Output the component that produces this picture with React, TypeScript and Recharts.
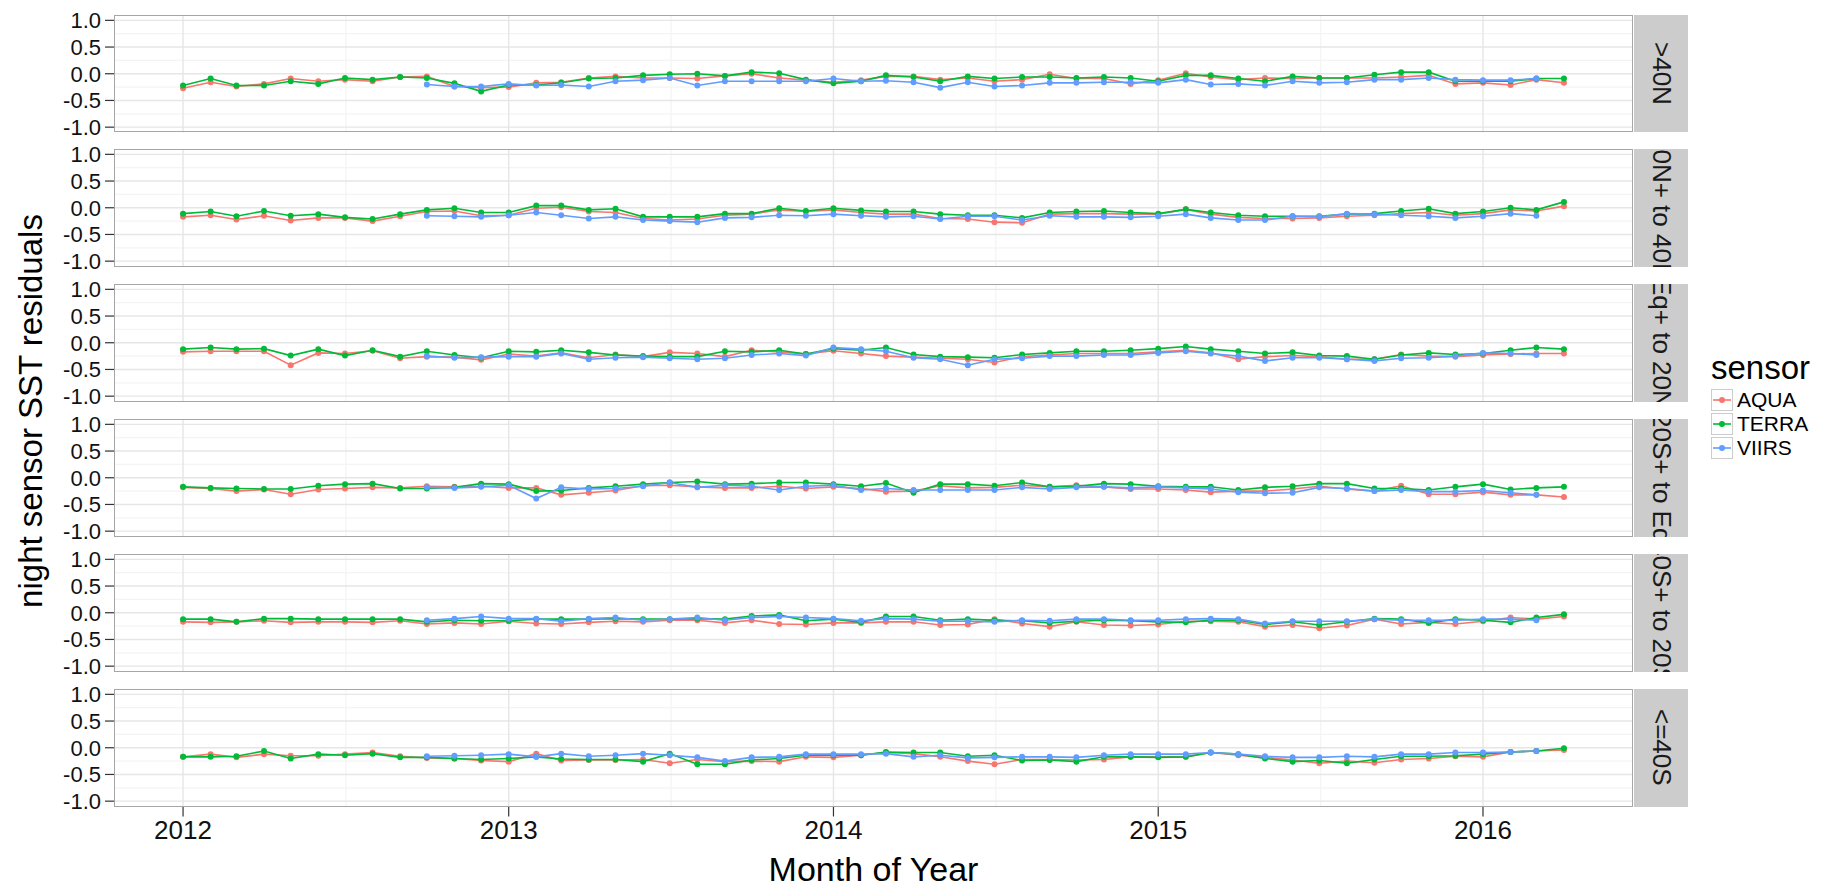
import React from "react";
import { LineChart, Line, XAxis, YAxis, CartesianGrid } from "recharts";

// Monthly night-time SST residuals per sensor, faceted by latitude band.
const MONTHS = [
  "2012-01", "2012-02", "2012-03", "2012-04", "2012-05", "2012-06", "2012-07", "2012-08", "2012-09", "2012-10", "2012-11", "2012-12",
  "2013-01", "2013-02", "2013-03", "2013-04", "2013-05", "2013-06", "2013-07", "2013-08", "2013-09", "2013-10", "2013-11", "2013-12",
  "2014-01", "2014-02", "2014-03", "2014-04", "2014-05", "2014-06", "2014-07", "2014-08", "2014-09", "2014-10", "2014-11", "2014-12",
  "2015-01", "2015-02", "2015-03", "2015-04", "2015-05", "2015-06", "2015-07", "2015-08", "2015-09", "2015-10", "2015-11", "2015-12",
  "2016-01", "2016-02", "2016-03", "2016-04",
];
const VIIRS_FIRST_MONTH = "2012-10";
const YEAR_BREAKS = ["2012-01", "2013-01", "2014-01", "2015-01", "2016-01"];
const YEAR_LABELS = ["2012", "2013", "2014", "2015", "2016"];
const Y_TICKS = [-1, -0.5, 0, 0.5, 1];
const Y_MINOR = [-0.75, -0.25, 0.25, 0.75];

const SENSORS = ["AQUA", "TERRA", "VIIRS"];
const SENSOR_COLORS: Record<string, string> = {
  AQUA: "#F8766D",
  TERRA: "#00BA38",
  VIIRS: "#619CFF",
};

const ZONES = [">40N", "20N+ to 40N", "Eq+ to 20N", "20S+ to Eq", "40S+ to 20S", "<=40S"];

// >40N
const aquaN40 = [
  -0.27, -0.16, -0.24, -0.19, -0.09, -0.14, -0.11, -0.14, -0.06, -0.05, -0.24, -0.26,
  -0.25, -0.17, -0.16, -0.08, -0.05, -0.08, -0.08, -0.09, -0.04, 0.0, -0.08, -0.12,
  -0.16, -0.12, -0.05, -0.05, -0.11, -0.08, -0.14, -0.11, -0.01, -0.09, -0.09, -0.19,
  -0.12, 0.01, -0.06, -0.11, -0.08, -0.09, -0.08, -0.08, -0.08, -0.06, -0.03, -0.19,
  -0.17, -0.21, -0.11, -0.17,
];
const terraN40 = [
  -0.22, -0.09, -0.22, -0.22, -0.14, -0.19, -0.08, -0.11, -0.06, -0.08, -0.18, -0.33,
  -0.21, -0.21, -0.17, -0.09, -0.08, -0.03, -0.01, 0.0, -0.04, 0.03, 0.01, -0.11,
  -0.18, -0.14, -0.03, -0.06, -0.14, -0.05, -0.09, -0.06, -0.06, -0.08, -0.06, -0.08,
  -0.14, -0.03, -0.03, -0.09, -0.14, -0.05, -0.08, -0.08, -0.02, 0.03, 0.03, -0.14,
  -0.14, -0.14, -0.09, -0.09,
];
const viirsN40 = [
  -0.2, -0.24, -0.24,
  -0.19, -0.22, -0.21, -0.24, -0.14, -0.12, -0.08, -0.22, -0.14, -0.14, -0.14, -0.14,
  -0.09, -0.14, -0.13, -0.16, -0.26, -0.16, -0.24, -0.22, -0.17, -0.17, -0.16, -0.16,
  -0.17, -0.11, -0.2, -0.19, -0.22, -0.14, -0.17, -0.16, -0.11, -0.11, -0.08, -0.11,
  -0.12, -0.12, -0.09,
];

// 20N+ to 40N
const aquaN20 = [
  -0.17, -0.14, -0.22, -0.15, -0.24, -0.19, -0.19, -0.25, -0.16, -0.07, -0.06, -0.15,
  -0.14, -0.01, 0.01, -0.07, -0.09, -0.2, -0.23, -0.21, -0.14, -0.12, -0.04, -0.07,
  -0.04, -0.09, -0.12, -0.12, -0.2, -0.21, -0.27, -0.28, -0.12, -0.11, -0.11, -0.12,
  -0.12, -0.03, -0.12, -0.18, -0.2, -0.2, -0.19, -0.16, -0.14, -0.11, -0.09, -0.14,
  -0.11, -0.04, -0.06, 0.03,
];
const terraN20 = [
  -0.11, -0.07, -0.16, -0.06, -0.15, -0.12, -0.18, -0.21, -0.12, -0.04, -0.01, -0.09,
  -0.09, 0.04, 0.04, -0.04, -0.02, -0.17, -0.17, -0.17, -0.11, -0.11, -0.01, -0.06,
  -0.01, -0.05, -0.07, -0.07, -0.12, -0.14, -0.14, -0.19, -0.09, -0.07, -0.06, -0.09,
  -0.11, -0.03, -0.09, -0.14, -0.16, -0.16, -0.16, -0.12, -0.11, -0.06, -0.02, -0.11,
  -0.07, 0.0, -0.04, 0.11,
];
const viirsN20 = [
  -0.15, -0.16, -0.17,
  -0.14, -0.09, -0.14, -0.2, -0.17, -0.23, -0.25, -0.27, -0.19, -0.18, -0.14, -0.15,
  -0.12, -0.15, -0.17, -0.16, -0.21, -0.16, -0.16, -0.23, -0.15, -0.17, -0.17, -0.18,
  -0.16, -0.12, -0.19, -0.23, -0.23, -0.16, -0.17, -0.11, -0.12, -0.14, -0.16, -0.19,
  -0.16, -0.11, -0.15,
];

// Eq+ to 20N
const aquaEqN = [
  -0.17, -0.16, -0.16, -0.16, -0.42, -0.19, -0.2, -0.15, -0.29, -0.26, -0.27, -0.32,
  -0.21, -0.25, -0.19, -0.28, -0.22, -0.26, -0.18, -0.2, -0.26, -0.14, -0.17, -0.21,
  -0.15, -0.2, -0.25, -0.27, -0.29, -0.31, -0.37, -0.26, -0.23, -0.2, -0.2, -0.2,
  -0.17, -0.14, -0.19, -0.31, -0.26, -0.24, -0.26, -0.31, -0.31, -0.22, -0.25, -0.26,
  -0.23, -0.21, -0.2, -0.2,
];
const terraEqN = [
  -0.12, -0.09, -0.12, -0.11, -0.24, -0.12, -0.24, -0.14, -0.26, -0.16, -0.23, -0.28,
  -0.16, -0.17, -0.14, -0.18, -0.23, -0.25, -0.26, -0.26, -0.16, -0.17, -0.14, -0.21,
  -0.11, -0.14, -0.09, -0.22, -0.26, -0.27, -0.28, -0.22, -0.19, -0.16, -0.16, -0.14,
  -0.11, -0.07, -0.12, -0.16, -0.2, -0.18, -0.24, -0.25, -0.31, -0.23, -0.19, -0.22,
  -0.2, -0.14, -0.09, -0.12,
];
const viirsEqN = [
  -0.25, -0.28, -0.27,
  -0.26, -0.26, -0.2, -0.31, -0.28, -0.27, -0.29, -0.31, -0.29, -0.23, -0.2, -0.24,
  -0.09, -0.12, -0.16, -0.28, -0.31, -0.42, -0.31, -0.29, -0.25, -0.25, -0.23, -0.23,
  -0.19, -0.16, -0.2, -0.25, -0.34, -0.28, -0.28, -0.31, -0.34, -0.29, -0.28, -0.25,
  -0.19, -0.2, -0.23,
];

// 20S+ to Eq
const aquaEqS = [
  -0.18, -0.2, -0.25, -0.22, -0.31, -0.22, -0.2, -0.18, -0.19, -0.16, -0.17, -0.16,
  -0.19, -0.19, -0.32, -0.28, -0.24, -0.15, -0.14, -0.17, -0.19, -0.19, -0.16, -0.2,
  -0.17, -0.2, -0.26, -0.25, -0.15, -0.19, -0.18, -0.14, -0.17, -0.14, -0.17, -0.21,
  -0.21, -0.23, -0.27, -0.25, -0.25, -0.21, -0.16, -0.21, -0.25, -0.15, -0.31, -0.31,
  -0.27, -0.32, -0.32, -0.36,
];
const terraEqS = [
  -0.17, -0.19, -0.2, -0.21, -0.21, -0.15, -0.12, -0.11, -0.2, -0.2, -0.18, -0.11,
  -0.12, -0.25, -0.24, -0.19, -0.16, -0.12, -0.09, -0.07, -0.12, -0.11, -0.09, -0.09,
  -0.12, -0.16, -0.1, -0.28, -0.12, -0.12, -0.15, -0.09, -0.17, -0.16, -0.11, -0.12,
  -0.16, -0.17, -0.17, -0.23, -0.18, -0.16, -0.11, -0.11, -0.2, -0.2, -0.23, -0.17,
  -0.12, -0.22, -0.19, -0.17,
];
const viirsEqS = [
  -0.18, -0.19, -0.17,
  -0.14, -0.39, -0.18, -0.21, -0.2, -0.16, -0.09, -0.18, -0.14, -0.16, -0.23, -0.16,
  -0.14, -0.23, -0.2, -0.23, -0.23, -0.23, -0.23, -0.18, -0.21, -0.18, -0.17, -0.19,
  -0.17, -0.19, -0.21, -0.27, -0.29, -0.28, -0.18, -0.2, -0.25, -0.23, -0.26, -0.26,
  -0.24, -0.28, -0.32,
];

// 40S+ to 20S
const aquaS20 = [
  -0.17, -0.18, -0.17, -0.15, -0.18, -0.17, -0.17, -0.18, -0.15, -0.21, -0.19, -0.21,
  -0.16, -0.2, -0.21, -0.18, -0.16, -0.17, -0.14, -0.14, -0.19, -0.14, -0.21, -0.22,
  -0.19, -0.19, -0.17, -0.17, -0.23, -0.22, -0.12, -0.2, -0.26, -0.17, -0.23, -0.24,
  -0.22, -0.16, -0.16, -0.17, -0.26, -0.23, -0.29, -0.24, -0.12, -0.21, -0.18, -0.21,
  -0.16, -0.09, -0.12, -0.07,
];
const terraS20 = [
  -0.12, -0.12, -0.17, -0.11, -0.11, -0.12, -0.12, -0.12, -0.12, -0.17, -0.14, -0.15,
  -0.15, -0.12, -0.12, -0.12, -0.11, -0.12, -0.12, -0.11, -0.12, -0.06, -0.04, -0.15,
  -0.12, -0.18, -0.07, -0.07, -0.14, -0.12, -0.14, -0.15, -0.19, -0.16, -0.14, -0.15,
  -0.17, -0.18, -0.14, -0.14, -0.22, -0.17, -0.23, -0.17, -0.11, -0.12, -0.19, -0.12,
  -0.14, -0.18, -0.09, -0.03,
];
const viirsS20 = [
  -0.14, -0.11, -0.07,
  -0.11, -0.11, -0.16, -0.11, -0.09, -0.14, -0.12, -0.09, -0.14, -0.09, -0.07, -0.09,
  -0.11, -0.15, -0.11, -0.12, -0.16, -0.16, -0.17, -0.14, -0.15, -0.12, -0.12, -0.14,
  -0.14, -0.12, -0.11, -0.12, -0.2, -0.16, -0.16, -0.16, -0.12, -0.14, -0.14, -0.14,
  -0.12, -0.12, -0.14,
];

// <=40S
const aquaS40 = [
  -0.17, -0.12, -0.18, -0.12, -0.15, -0.15, -0.12, -0.09, -0.16, -0.19, -0.2, -0.24,
  -0.26, -0.11, -0.24, -0.23, -0.23, -0.22, -0.29, -0.22, -0.26, -0.25, -0.26, -0.17,
  -0.18, -0.14, -0.09, -0.11, -0.17, -0.25, -0.31, -0.22, -0.22, -0.23, -0.22, -0.17,
  -0.17, -0.17, -0.09, -0.14, -0.18, -0.23, -0.29, -0.25, -0.28, -0.22, -0.2, -0.16,
  -0.17, -0.08, -0.06, -0.04,
];
const terraS40 = [
  -0.17, -0.17, -0.16, -0.06, -0.2, -0.12, -0.14, -0.11, -0.18, -0.18, -0.2, -0.22,
  -0.2, -0.17, -0.21, -0.22, -0.22, -0.26, -0.11, -0.31, -0.31, -0.23, -0.2, -0.14,
  -0.14, -0.14, -0.08, -0.09, -0.09, -0.16, -0.14, -0.24, -0.23, -0.26, -0.17, -0.17,
  -0.18, -0.17, -0.09, -0.12, -0.2, -0.26, -0.24, -0.29, -0.22, -0.16, -0.16, -0.15,
  -0.12, -0.08, -0.06, -0.01,
];
const viirsS40 = [
  -0.16, -0.15, -0.14,
  -0.12, -0.17, -0.11, -0.16, -0.14, -0.11, -0.14, -0.18, -0.25, -0.18, -0.17, -0.12,
  -0.12, -0.12, -0.11, -0.17, -0.14, -0.19, -0.18, -0.17, -0.17, -0.18, -0.14, -0.12,
  -0.12, -0.12, -0.09, -0.12, -0.16, -0.18, -0.18, -0.16, -0.17, -0.12, -0.12, -0.09,
  -0.09, -0.08, -0.06,
];

const ZONE_SERIES = [
  { AQUA: aquaN40, TERRA: terraN40, VIIRS: viirsN40 },
  { AQUA: aquaN20, TERRA: terraN20, VIIRS: viirsN20 },
  { AQUA: aquaEqN, TERRA: terraEqN, VIIRS: viirsEqN },
  { AQUA: aquaEqS, TERRA: terraEqS, VIIRS: viirsEqS },
  { AQUA: aquaS20, TERRA: terraS20, VIIRS: viirsS20 },
  { AQUA: aquaS40, TERRA: terraS40, VIIRS: viirsS40 },
];

// days since the first month, so the x scale behaves like a date axis
const DAY = 86400000;
const dayOf = (m: string) => {
  const [y, mo] = m.split("-").map(Number);
  return (Date.UTC(y, mo - 1, 1) - Date.UTC(2012, 0, 1)) / DAY;
};

const X_FIRST = dayOf(MONTHS[0]);
const X_LAST = dayOf(MONTHS[MONTHS.length - 1]);
const X_PAD = (X_LAST - X_FIRST) * 0.05;
const X_DOMAIN = [X_FIRST - X_PAD, X_LAST + X_PAD];
const X_TICKS = YEAR_BREAKS.map(dayOf);
const X_MINOR = X_TICKS.slice(1).map((t, i) => (t + X_TICKS[i]) / 2);
const VIIRS_OFFSET = MONTHS.indexOf(VIIRS_FIRST_MONTH);

function buildRows(series: Record<string, number[]>) {
  return MONTHS.map((m, i) => {
    const v = i - VIIRS_OFFSET;
    return {
      t: dayOf(m),
      AQUA: series.AQUA[i],
      TERRA: series.TERRA[i],
      VIIRS: v >= 0 && v < series.VIIRS.length ? series.VIIRS[v] : null,
    };
  });
}

const FONT = '"Liberation Sans", Arial, sans-serif';
const NARROW = '"Liberation Sans Narrow", "Liberation Sans", sans-serif';
const PANEL_LEFT = 114;
const PANEL_RIGHT = 1633;
const PANEL_W = PANEL_RIGHT - PANEL_LEFT;
const PANEL_H = 117.5;
const PANEL_TOP = 14.5;
const PANEL_STEP = 134.9;
const STRIP_W = 54;
const X_AXIS_H = 46;
// room above/below each panel so the outer tick labels are not clipped
const PAD = 12;

function Panel({ index }: { index: number }) {
  const rows = buildRows(ZONE_SERIES[index]);
  const top = PANEL_TOP + index * PANEL_STEP;
  const isLast = index === ZONES.length - 1;
  const padBottom = isLast ? 0 : PAD;
  return (
    <>
      <div style={{ position: "absolute", left: 0, top: top - PAD }}>
        <LineChart
          width={PANEL_RIGHT}
          height={PANEL_H + PAD + padBottom + (isLast ? X_AXIS_H : 0)}
          data={rows}
          margin={{ top: PAD, right: 0, bottom: padBottom, left: 0 }}
        >
          <CartesianGrid
            stroke="#F4F4F4"
            strokeWidth={1.2}
            horizontalValues={Y_MINOR}
            verticalValues={X_MINOR}
          />
          <CartesianGrid
            stroke="#E6E6E6"
            strokeWidth={1.4}
            horizontalValues={Y_TICKS}
            verticalValues={X_TICKS}
          />
          <XAxis
            type="number"
            dataKey="t"
            domain={X_DOMAIN}
            ticks={X_TICKS}
            interval={0}
            allowDataOverflow
            hide={!isLast}
            height={X_AXIS_H}
            axisLine={false}
            tickSize={10}
            tickMargin={4}
            tickLine={{ stroke: "#333", strokeWidth: 1.2 }}
            tick={{ fill: "#111", fontSize: 26, fontFamily: FONT }}
            tickFormatter={(v: number) => YEAR_LABELS[X_TICKS.indexOf(v)]}
          />
          <YAxis
            type="number"
            domain={[-1.1, 1.1]}
            ticks={Y_TICKS}
            interval={0}
            allowDataOverflow
            width={PANEL_LEFT}
            axisLine={false}
            tickSize={9}
            tickMargin={4}
            tickLine={{ stroke: "#333", strokeWidth: 1.2 }}
            tick={{ fill: "#111", fontSize: 22, fontFamily: NARROW }}
            tickFormatter={(v: number) => v.toFixed(1)}
          />
          {SENSORS.map((s) => (
            <Line
              key={s + "-line"}
              dataKey={s}
              stroke={SENSOR_COLORS[s]}
              strokeWidth={1.6}
              dot={false}
              activeDot={false}
              isAnimationActive={false}
            />
          ))}
          {SENSORS.map((s) => (
            <Line
              key={s + "-pts"}
              dataKey={s}
              stroke="none"
              dot={{ r: 3, fill: SENSOR_COLORS[s], stroke: "none" }}
              activeDot={false}
              isAnimationActive={false}
            />
          ))}
        </LineChart>
      </div>
      <div
        style={{
          position: "absolute",
          left: PANEL_LEFT,
          top,
          width: PANEL_W,
          height: PANEL_H,
          boxSizing: "border-box",
          border: "1.5px solid #A6A6A6",
          pointerEvents: "none",
        }}
      />
      <div
        style={{
          position: "absolute",
          left: PANEL_RIGHT + 1,
          top,
          width: STRIP_W,
          height: PANEL_H,
          background: "#CCCCCC",
          overflow: "hidden",
          display: "flex",
          alignItems: "center",
          justifyContent: "center",
        }}
      >
        <div
          style={{
            writingMode: "vertical-rl",
            whiteSpace: "nowrap",
            fontFamily: FONT,
            fontSize: 26,
            color: "#1A1A1A",
            flexShrink: 0,
          }}
        >
          {ZONES[index]}
        </div>
      </div>
    </>
  );
}

function SensorLegend() {
  return (
    <div style={{ position: "absolute", left: 1711, top: 350, fontFamily: FONT }}>
      <div style={{ fontSize: 33, color: "#000", lineHeight: "36px", marginBottom: 2 }}>sensor</div>
      {SENSORS.map((s) => (
        <div key={s} style={{ display: "flex", alignItems: "center", height: 24 }}>
          <svg width={22} height={22} style={{ marginRight: 4 }}>
            <rect x={0.5} y={0.5} width={21} height={21} fill="#fff" stroke="#CCCCCC" />
            <line x1={2} y1={11} x2={20} y2={11} stroke={SENSOR_COLORS[s]} strokeWidth={1.6} />
            <circle cx={11} cy={11} r={3} fill={SENSOR_COLORS[s]} />
          </svg>
          <span style={{ fontSize: 21, color: "#000" }}>{s}</span>
        </div>
      ))}
    </div>
  );
}

export default function App() {
  const panelsBottom = PANEL_TOP + (ZONES.length - 1) * PANEL_STEP + PANEL_H;
  return (
    <div
      style={{
        position: "absolute",
        left: 0,
        top: 0,
        width: 1829,
        height: 883,
        background: "#fff",
        overflow: "hidden",
        fontFamily: FONT,
      }}
    >
      {ZONES.map((z, i) => (
        <Panel key={z} index={i} />
      ))}
      <div
        style={{
          position: "absolute",
          left: 31,
          top: (PANEL_TOP + panelsBottom) / 2,
          transform: "translate(-50%, -50%) rotate(-90deg)",
          whiteSpace: "nowrap",
          fontSize: 33,
          color: "#000",
        }}
      >
        night sensor SST residuals
      </div>
      <div
        style={{
          position: "absolute",
          left: (PANEL_LEFT + PANEL_RIGHT) / 2,
          top: 869,
          transform: "translate(-50%, -50%)",
          whiteSpace: "nowrap",
          fontSize: 34,
          color: "#000",
        }}
      >
        Month of Year
      </div>
      <SensorLegend />
    </div>
  );
}
